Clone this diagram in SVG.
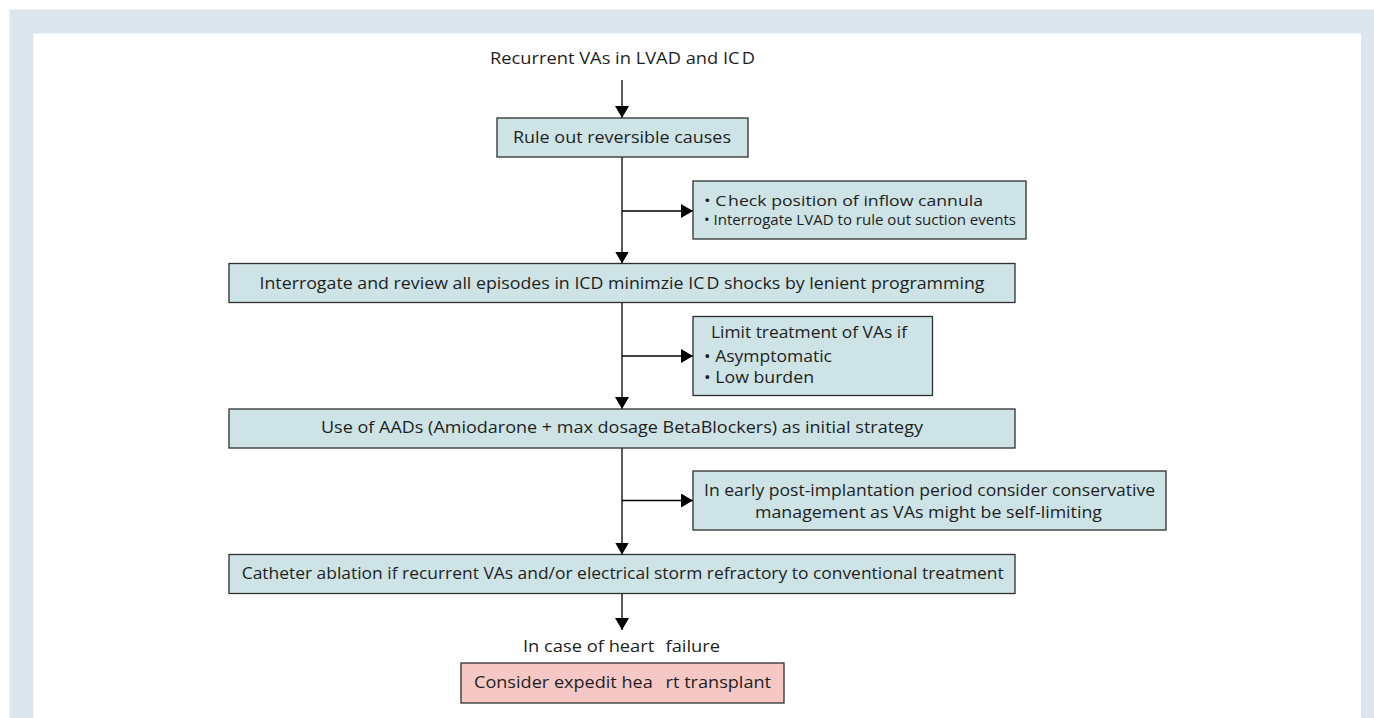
<svg xmlns="http://www.w3.org/2000/svg" width="1374" height="718" viewBox="0 0 1374 718">
<defs>
<style>
.box{fill:#cde3e5;stroke:#2e2e2e;stroke-width:1.3}
.pink{fill:#f5c8c6;stroke:#2e2e2e;stroke-width:1.3}
.t{font-family:"Open Sans","Noto Sans","DejaVu Sans",sans-serif;font-size:17px;fill:#1e1e1e}
.s{font-size:15px}
.ln{stroke:#000;stroke-width:1.3;fill:none}
</style>
<marker id="ah" viewBox="0 0 12 14" refX="12" refY="7" markerWidth="12" markerHeight="14" markerUnits="userSpaceOnUse" orient="auto">
<path d="M0,0 L12,7 L0,14 Z" fill="#000"/>
</marker>
</defs>
<rect x="0" y="0" width="1374" height="718" fill="#fff"/>
<rect x="9.5" y="9.5" width="1364.5" height="708.5" fill="#dde6ef"/>
<rect x="33.5" y="33.5" width="1327.5" height="684.5" fill="#fff"/>

<g id="connectors">
<line class="ln" x1="622" y1="80" x2="622" y2="118" marker-end="url(#ah)"/>
<line class="ln" x1="622" y1="157" x2="622" y2="263.5" marker-end="url(#ah)"/>
<line class="ln" x1="622" y1="211" x2="693" y2="211" marker-end="url(#ah)"/>
<line class="ln" x1="622" y1="303" x2="622" y2="409" marker-end="url(#ah)"/>
<line class="ln" x1="622" y1="356" x2="693" y2="356" marker-end="url(#ah)"/>
<line class="ln" x1="622" y1="448" x2="622" y2="554.5" marker-end="url(#ah)"/>
<line class="ln" x1="622" y1="500.5" x2="693" y2="500.5" marker-end="url(#ah)"/>
<line class="ln" x1="622" y1="593.5" x2="622" y2="630" marker-end="url(#ah)"/>
</g>

<g id="n_title">
<text class="t" x="490" y="64" textLength="265" lengthAdjust="spacingAndGlyphs">Recurrent VAs in LVAD and IC<tspan dx="2">D</tspan></text>
</g>

<g id="n_rule">
<rect class="box" x="497" y="118" width="251" height="39"/>
<text class="t" x="513" y="143.3" textLength="218" lengthAdjust="spacingAndGlyphs">Rule out reversible causes</text>
</g>

<g id="n_check">
<rect class="box" x="693" y="181" width="333" height="58"/>
<text class="t s" x="704" y="206" textLength="279" lengthAdjust="spacingAndGlyphs">• C<tspan dx="1.5">heck</tspan> position of inflow cannula</text>
<text class="t s" x="704" y="224.5" textLength="312" lengthAdjust="spacingAndGlyphs">• Interrogate LVAD to rule out suction events</text>
</g>

<g id="n_interrogate">
<rect class="box" x="229" y="263.5" width="786" height="39"/>
<text class="t" x="259.5" y="288.5" textLength="725" lengthAdjust="spacingAndGlyphs">Interrogate and review all episodes in ICD minimzie IC<tspan dx="2">D</tspan> shocks by lenient programming</text>
</g>

<g id="n_limit">
<rect class="box" x="693" y="316.5" width="239.5" height="79"/>
<text class="t" x="711" y="338.3" textLength="196" lengthAdjust="spacingAndGlyphs">Limit treatment of VAs if</text>
<text class="t" x="704" y="361.7" textLength="128" lengthAdjust="spacingAndGlyphs">• Asymptomatic</text>
<text class="t" x="704" y="383.3" textLength="110" lengthAdjust="spacingAndGlyphs">• Low burden</text>
</g>

<g id="n_aads">
<rect class="box" x="229" y="409" width="786" height="39"/>
<text class="t" x="321" y="433.3" textLength="602" lengthAdjust="spacingAndGlyphs">Use of AADs (Amiodarone + max dosage BetaBlockers) as initial strategy</text>
</g>

<g id="n_early">
<rect class="box" x="693" y="471" width="473" height="59"/>
<text class="t" x="704" y="496" textLength="451" lengthAdjust="spacingAndGlyphs">In early post-implantation period consider conservative</text>
<text class="t" x="755" y="518.3" textLength="347" lengthAdjust="spacingAndGlyphs">management as VAs might be self-limiting</text>
</g>

<g id="n_ablation">
<rect class="box" x="229" y="554.5" width="786" height="39"/>
<text class="t" x="241.7" y="579" textLength="762" lengthAdjust="spacingAndGlyphs">Catheter ablation if recurrent VAs and/or electrical storm refractory to conventional treatment</text>
</g>

<g id="n_hf">
<text class="t" x="523" y="651.7" textLength="197" lengthAdjust="spacingAndGlyphs">In case of heart <tspan dx="6">failure</tspan></text>
</g>

<g id="n_transplant">
<rect class="pink" x="461" y="663" width="323" height="40"/>
<text class="t" x="474" y="688.3" textLength="297" lengthAdjust="spacingAndGlyphs">Consider expedit hea<tspan dx="12">rt</tspan> transplant</text>
</g>
</svg>
